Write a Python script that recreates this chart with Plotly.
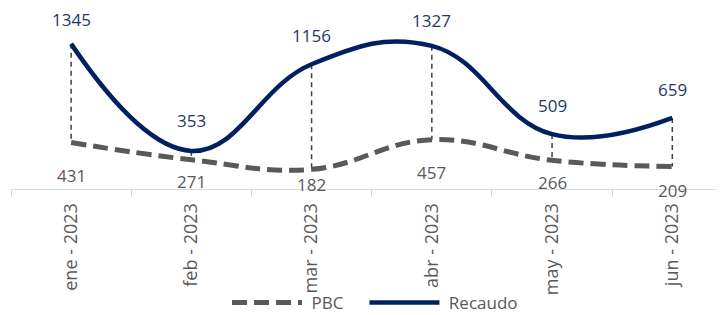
import plotly.graph_objects as go

categories = ["ene - 2023", "feb - 2023", "mar - 2023", "abr - 2023", "may - 2023", "jun - 2023"]
pbc = [431, 271, 182, 457, 266, 209]
recaudo = [1345, 353, 1156, 1327, 509, 659]
series_names = ["PBC", "Recaudo"]

# label offsets (style only)
rec_shift = [24, 30, 29, 25, 29, 28]
pbc_shift = [-33, -22, -15, -33, -22, -24]

FONT = "Open Sans"
GRAY = "#595959"
NAVY = "#002060"
LABEL_BLUE = "#1F3864"
NB = "\u00a0"

fig = go.Figure()

# drop lines from Recaudo to PBC
dx, dy = [], []
for c, r, p in zip(categories, recaudo, pbc):
    dx += [c, c, None]
    dy += [r, p, None]
fig.add_trace(go.Scatter(x=dx, y=dy, mode="lines", showlegend=False, hoverinfo="skip",
                         line=dict(color="#404040", width=1.5, dash="5px,4px")))

fig.add_trace(go.Scatter(x=categories, y=pbc, name=NB + series_names[0] + NB * 3 + "\u2009", mode="lines",
                         line=dict(color=GRAY, width=5, dash="15px,7px", shape="spline", smoothing=1.2)))
fig.add_trace(go.Scatter(x=categories, y=recaudo, name=NB + series_names[1], mode="lines",
                         line=dict(color=NAVY, width=4.5, shape="spline", smoothing=1.2)))

for c, r, s in zip(categories, recaudo, rec_shift):
    fig.add_annotation(x=c, y=r, text=str(r), showarrow=False, yshift=s,
                       font=dict(family=FONT, size=17, color=LABEL_BLUE))
for c, p, s in zip(categories, pbc, pbc_shift):
    fig.add_annotation(x=c, y=p, text=str(p), showarrow=False, yshift=s,
                       font=dict(family=FONT, size=17, color=GRAY))

# page body has an 8px margin, so the figure is drawn 8px smaller and offset
fig.update_layout(
    width=716, height=307,
    margin=dict(l=3, r=0, t=2, b=126, autoexpand=False),
    paper_bgcolor="white", plot_bgcolor="white",
    font=dict(family=FONT, color=GRAY),
    showlegend=True,
    legend=dict(orientation="h", x=0.303, xanchor="left", y=-0.637, yanchor="middle",
                font=dict(family=FONT, size=17, color=GRAY), itemwidth=70,
                bgcolor="rgba(0,0,0,0)"),
)
fig.update_xaxes(type="category", range=[-0.5, 5.43], tickson="boundaries",
                 ticks="outside", ticklen=7, tickcolor="#d9d9d9", tickwidth=1,
                 showline=True, linecolor="#d9d9d9", linewidth=1, automargin=False,
                 ticklabelstandoff=6,
                 showgrid=False, zeroline=False, tickangle=-90,
                 tickfont=dict(family=FONT, size=18, color=GRAY))
fig.update_yaxes(range=[0, 179 / 0.1079], visible=False, showgrid=False, zeroline=False)

fig.write_html("out.html")
